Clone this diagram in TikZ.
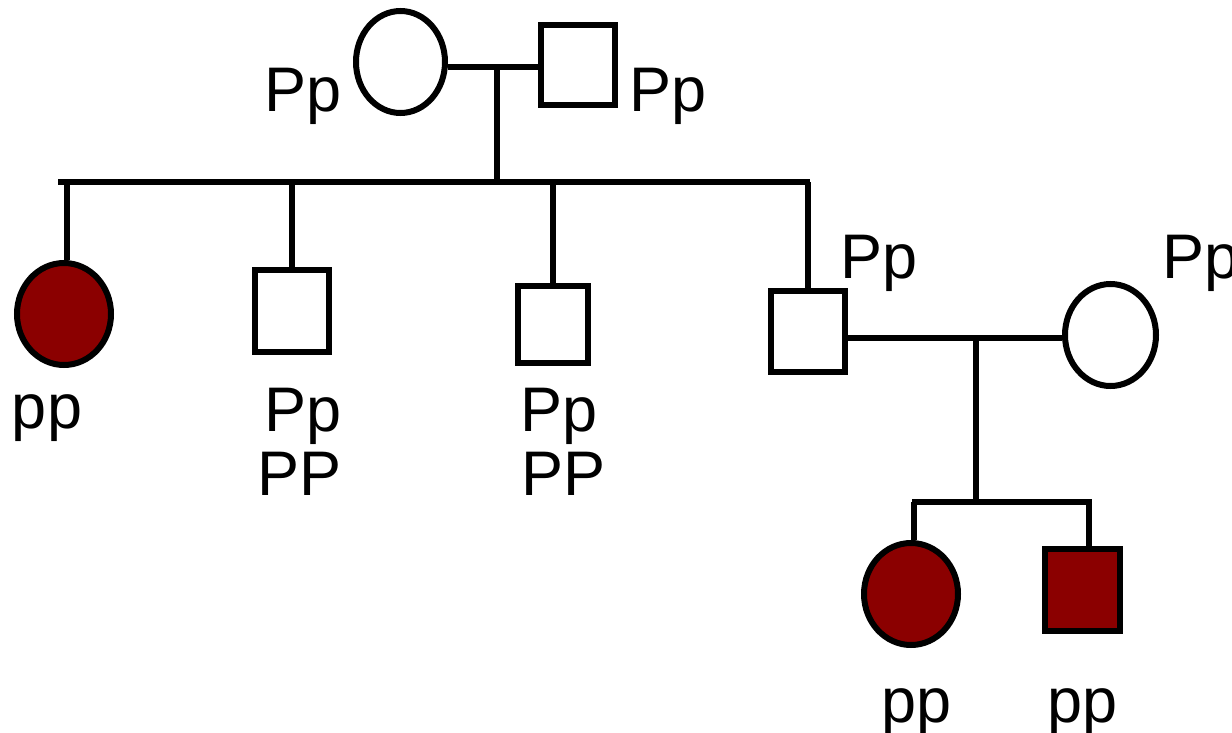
\documentclass[tikz,border=0pt]{standalone}
\usepackage{fontspec}
\setmainfont{Liberation Sans}
\usetikzlibrary{shapes.geometric}
\definecolor{affected}{HTML}{8B0000}
\begin{document}
\begin{tikzpicture}[x=1pt,y=-1pt,line width=6pt,
  female/.style={draw,ellipse,inner sep=0pt,minimum width=#1,minimum height=102pt},
  female/.default=92pt,
  male/.style 2 args={draw,rectangle,inner sep=0pt,minimum width=#1,minimum height=#2},
  sick/.style={fill=affected},
  geno/.style={anchor=base west,inner sep=0pt,font=\fontsize{63}{75}\selectfont}]
\useasboundingbox (0,0) rectangle (1232,733);

% generation I
\node[female=89pt] (mom) at (400.5,62) {};
\node[male={74pt}{80pt}] (dad) at (578,65) {};
\node[geno] (tmom) at (261,112) {Pp};
\node[geno] (tdad) at (626,112) {Pp};

% generation II
\node[female=94pt,sick] (c1) at (64,314) {};
\node[male={74pt}{82pt}] (c2) at (292,311) {};
\node[male={70.5pt}{77.5pt}] (c3) at (553,324.5) {};
\node[male={74pt}{81pt}] (c4) at (808,331.5) {};
\node[female=91pt] (sp) at (1110.5,335) {};

\node[geno] (tc1) at (9,428) {pp};
\node[geno] (tc2a) at (261,431) {Pp};
\node[geno] (tc2b) at (254,495) {PP};
\node[geno] (tc3a) at (517,431) {Pp};
\node[geno] (tc3b) at (518,495) {PP};
\node[geno] (tc4) at (837,278) {Pp};
\node[geno] (tsp) at (1159,278) {Pp};

% generation III
\node[female=94pt,sick] (g1) at (911,594) {};
\node[male={75pt}{82pt},sick] (g2) at (1082.5,590) {};
\node[geno] (tg1) at (878,722) {pp};
\node[geno] (tg2) at (1044,722) {pp};

% mating and descent lines, top family
\coordinate (m1) at (497,67);
\coordinate (s1) at (497,182);
\coordinate (sL) at (58,182);
\coordinate (sR) at (810,182);
\coordinate (d1) at (67,182);
\draw (mom.east |- m1) -- (dad.west |- m1);
\draw (m1) -- (s1);
\draw (sL) -- (sR);
\draw (d1) -- (d1 |- c1.north);
\draw (c2.north |- sL) -- (c2.north);
\draw (c3.north |- sL) -- (c3.north);
\draw (c4.north |- sL) -- (c4.north);

% mating and descent lines, lower family
\coordinate (m2) at (976,338);
\coordinate (s2) at (976,502);
\draw (c4.east |- m2) -- (sp.west |- m2);
\draw (m2) -- (s2);
\coordinate (s2L) at (912,502);
\coordinate (s2R) at (1091.5,502);
\coordinate (d2) at (914,502);
\coordinate (d3) at (1089,502);
\draw (s2L) -- (s2R);
\draw (d2) -- (d2 |- g1.north);
\draw (d3) -- (d3 |- g2.north);
\end{tikzpicture}
\end{document}
